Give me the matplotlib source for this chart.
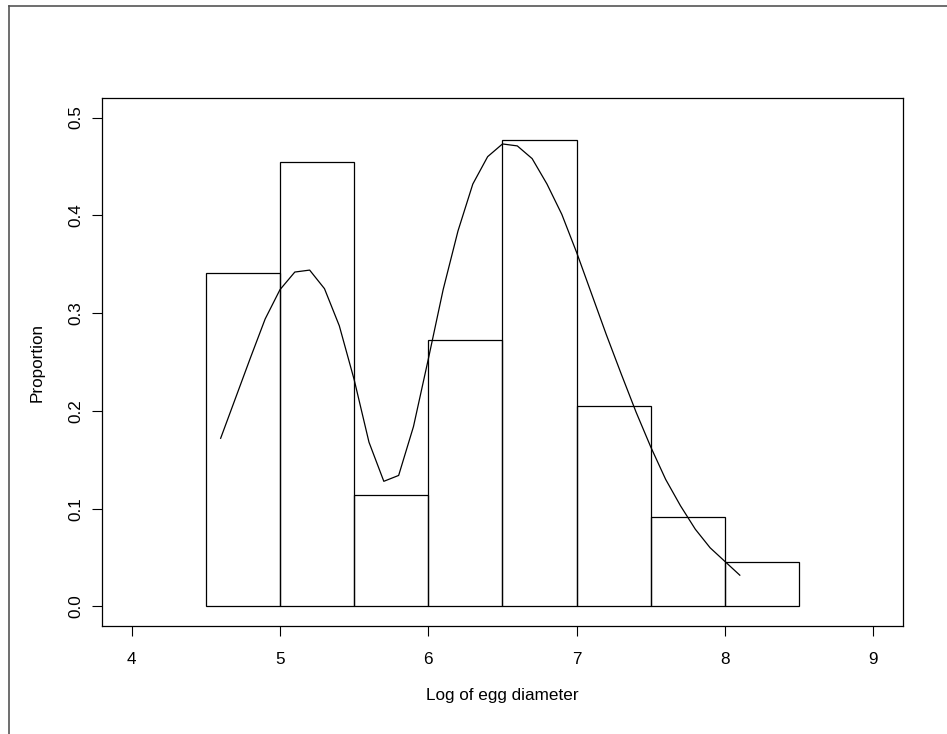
import numpy as np
import matplotlib
matplotlib.use("Agg")
import matplotlib.pyplot as plt
from matplotlib.lines import Line2D

plt.rcParams['font.family'] = ['Liberation Sans', 'DejaVu Sans']

# histogram of log egg diameter (proportions per 0.5 bin)
bin_edges = [4.5, 5.0, 5.5, 6.0, 6.5, 7.0, 7.5, 8.0, 8.5]
proportions = [0.341, 0.455, 0.114, 0.273, 0.477, 0.205, 0.091, 0.045]

# fitted density curve
curve_x = [4.6, 4.7, 4.8, 4.9, 5.0, 5.1, 5.2, 5.3, 5.4, 5.5, 5.6, 5.7, 5.8, 5.9,
           6.0, 6.1, 6.2, 6.3, 6.4, 6.5, 6.6, 6.7, 6.8, 6.9, 7.0, 7.1, 7.2, 7.3,
           7.4, 7.5, 7.6, 7.7, 7.8, 7.9, 8.0, 8.1]
curve_y = [0.172, 0.213, 0.254, 0.294, 0.324, 0.342, 0.344, 0.325, 0.287, 0.232,
           0.168, 0.128, 0.134, 0.184, 0.253, 0.324, 0.384, 0.432, 0.460, 0.473,
           0.471, 0.458, 0.432, 0.401, 0.362, 0.320, 0.278, 0.238, 0.199, 0.163,
           0.130, 0.103, 0.079, 0.060, 0.046, 0.032]

x_ticks = [4, 5, 6, 7, 8, 9]
y_ticks = [0.0, 0.1, 0.2, 0.3, 0.4, 0.5]

fig = plt.figure(figsize=(9.47, 7.34), dpi=100)
ax = fig.add_axes([0.1077, 0.1471, 0.8458, 0.7194])

lefts = np.array(bin_edges[:-1])
widths = np.diff(bin_edges)
ax.bar(lefts, proportions, width=widths, align='edge', facecolor='none',
       edgecolor='black', linewidth=0.9)
ax.plot(curve_x, curve_y, color='black', linewidth=0.9)

ax.set_xlim(3.8, 9.2)
ax.set_ylim(-0.02, 0.52)
ax.set_xticks(x_ticks)
ax.set_xticklabels([str(t) for t in x_ticks])
ax.set_yticks(y_ticks)
ax.set_yticklabels(['%.1f' % t for t in y_ticks], rotation=90, va='center')
ax.tick_params(direction='out', length=7.5, width=0.8, labelsize=12.3)
ax.tick_params(axis='x', pad=11)
ax.tick_params(axis='y', pad=6)
for s in ax.spines.values():
    s.set_linewidth(0.9)

ax.set_xlabel('Log of egg diameter', fontsize=12.3)
ax.set_ylabel('Proportion', fontsize=12.3)
ax.xaxis.set_label_coords(0.5, -0.118)
ax.yaxis.set_label_coords(-0.071, 0.5)

# outer screenshot frame (top and left edges)
fig.add_artist(Line2D([9 / 947, 9 / 947], [0, 1 - 6 / 734], transform=fig.transFigure,
                      color='#555555', linewidth=1.2))
fig.add_artist(Line2D([9 / 947, 1], [1 - 6 / 734, 1 - 6 / 734], transform=fig.transFigure,
                      color='#555555', linewidth=1.2))

fig.savefig('out.png', dpi=100)
